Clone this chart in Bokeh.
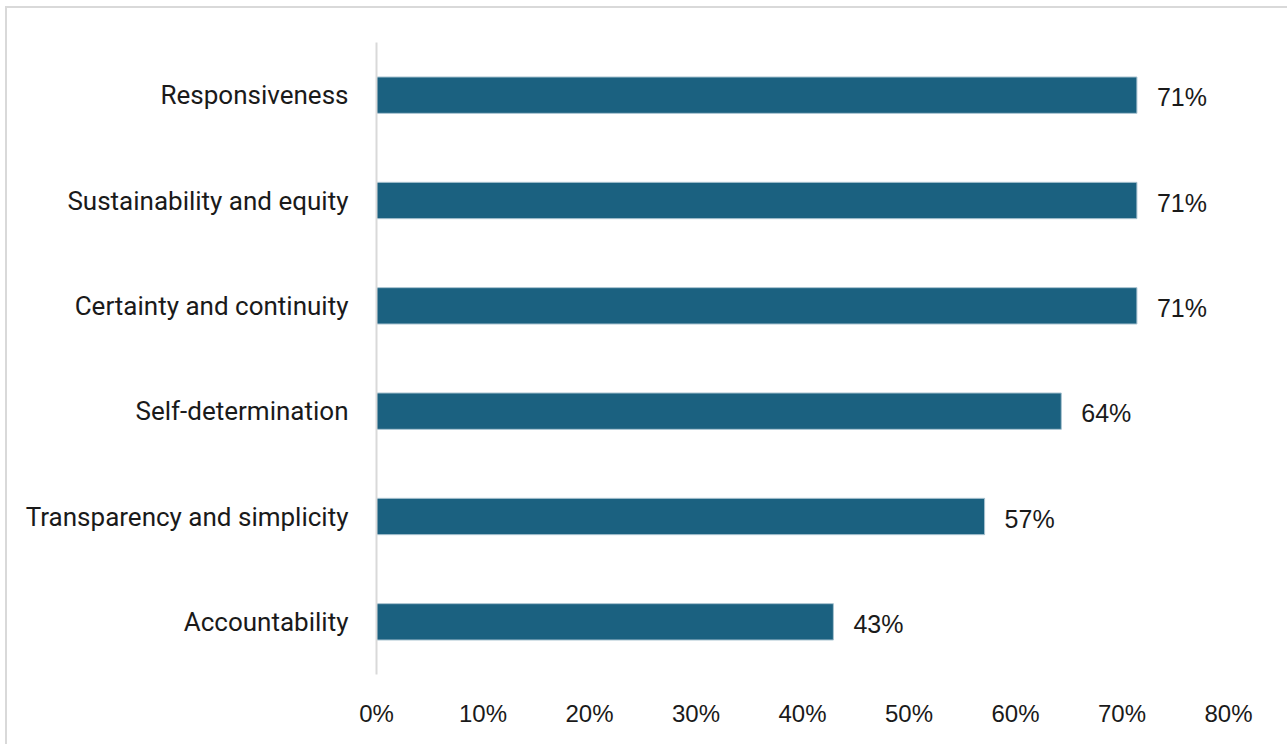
from bokeh.plotting import figure
from bokeh.models import ColumnDataSource, NumeralTickFormatter, FixedTicker, Range1d
from bokeh.core.properties import value
from bokeh.embed import file_html
from bokeh.resources import INLINE

categories = ["Accountability", "Transparency and simplicity", "Self-determination",
              "Certainty and continuity", "Sustainability and equity", "Responsiveness"]
values = [0.429, 0.571, 0.643, 0.714, 0.714, 0.714]
labels = ["43%", "57%", "64%", "71%", "71%", "71%"]
ticks = [0, 0.1, 0.2, 0.3, 0.4, 0.5, 0.6, 0.7, 0.8]

src = ColumnDataSource(dict(cat=categories, val=values, lab=labels))

p = figure(width=1282, height=738, y_range=categories, x_range=Range1d(0, 0.8),
           output_backend="svg", toolbar_location=None,
           min_border_left=369, min_border_right=61, min_border_top=34, min_border_bottom=72,
           margin=(6, 0, 0, 5))
p.styles = {"border-top": "2px solid #d9d9d9", "border-left": "2px solid #d9d9d9"}
p.outline_line_color = None
p.grid.grid_line_color = None

p.hbar(y="cat", right="val", left=0, height=0.345, source=src,
       fill_color="#1b6180", line_color="#a9c3d0", line_width=1)
p.text(x="val", y="cat", text="lab", source=src, x_offset=20, y_offset=2,
       text_baseline="middle", text_align="left", text_font_size="25px",
       text_font=value("Liberation Sans"), text_color="#1a1a1a")

p.xaxis.ticker = FixedTicker(ticks=ticks)
p.xaxis.formatter = NumeralTickFormatter(format="0%")
p.xaxis.axis_line_color = None
p.xaxis.major_tick_line_color = None
p.xaxis.minor_tick_line_color = None
p.xaxis.major_label_text_font = "Liberation Sans"
p.xaxis.major_label_text_font_size = "24px"
p.xaxis.major_label_text_color = "#1a1a1a"
p.xaxis.major_label_standoff = 19

p.yaxis.axis_line_color = "#d9d9d9"
p.yaxis.axis_line_width = 2
p.yaxis.major_tick_line_color = None
p.yaxis.minor_tick_line_color = None
p.yaxis.major_label_text_font = "Roboto"
p.yaxis.major_label_text_font_size = "26px"
p.yaxis.major_label_text_color = "#1a1a1a"
p.yaxis.major_label_standoff = 22

open("out.html", "w").write(file_html(p, INLINE))
